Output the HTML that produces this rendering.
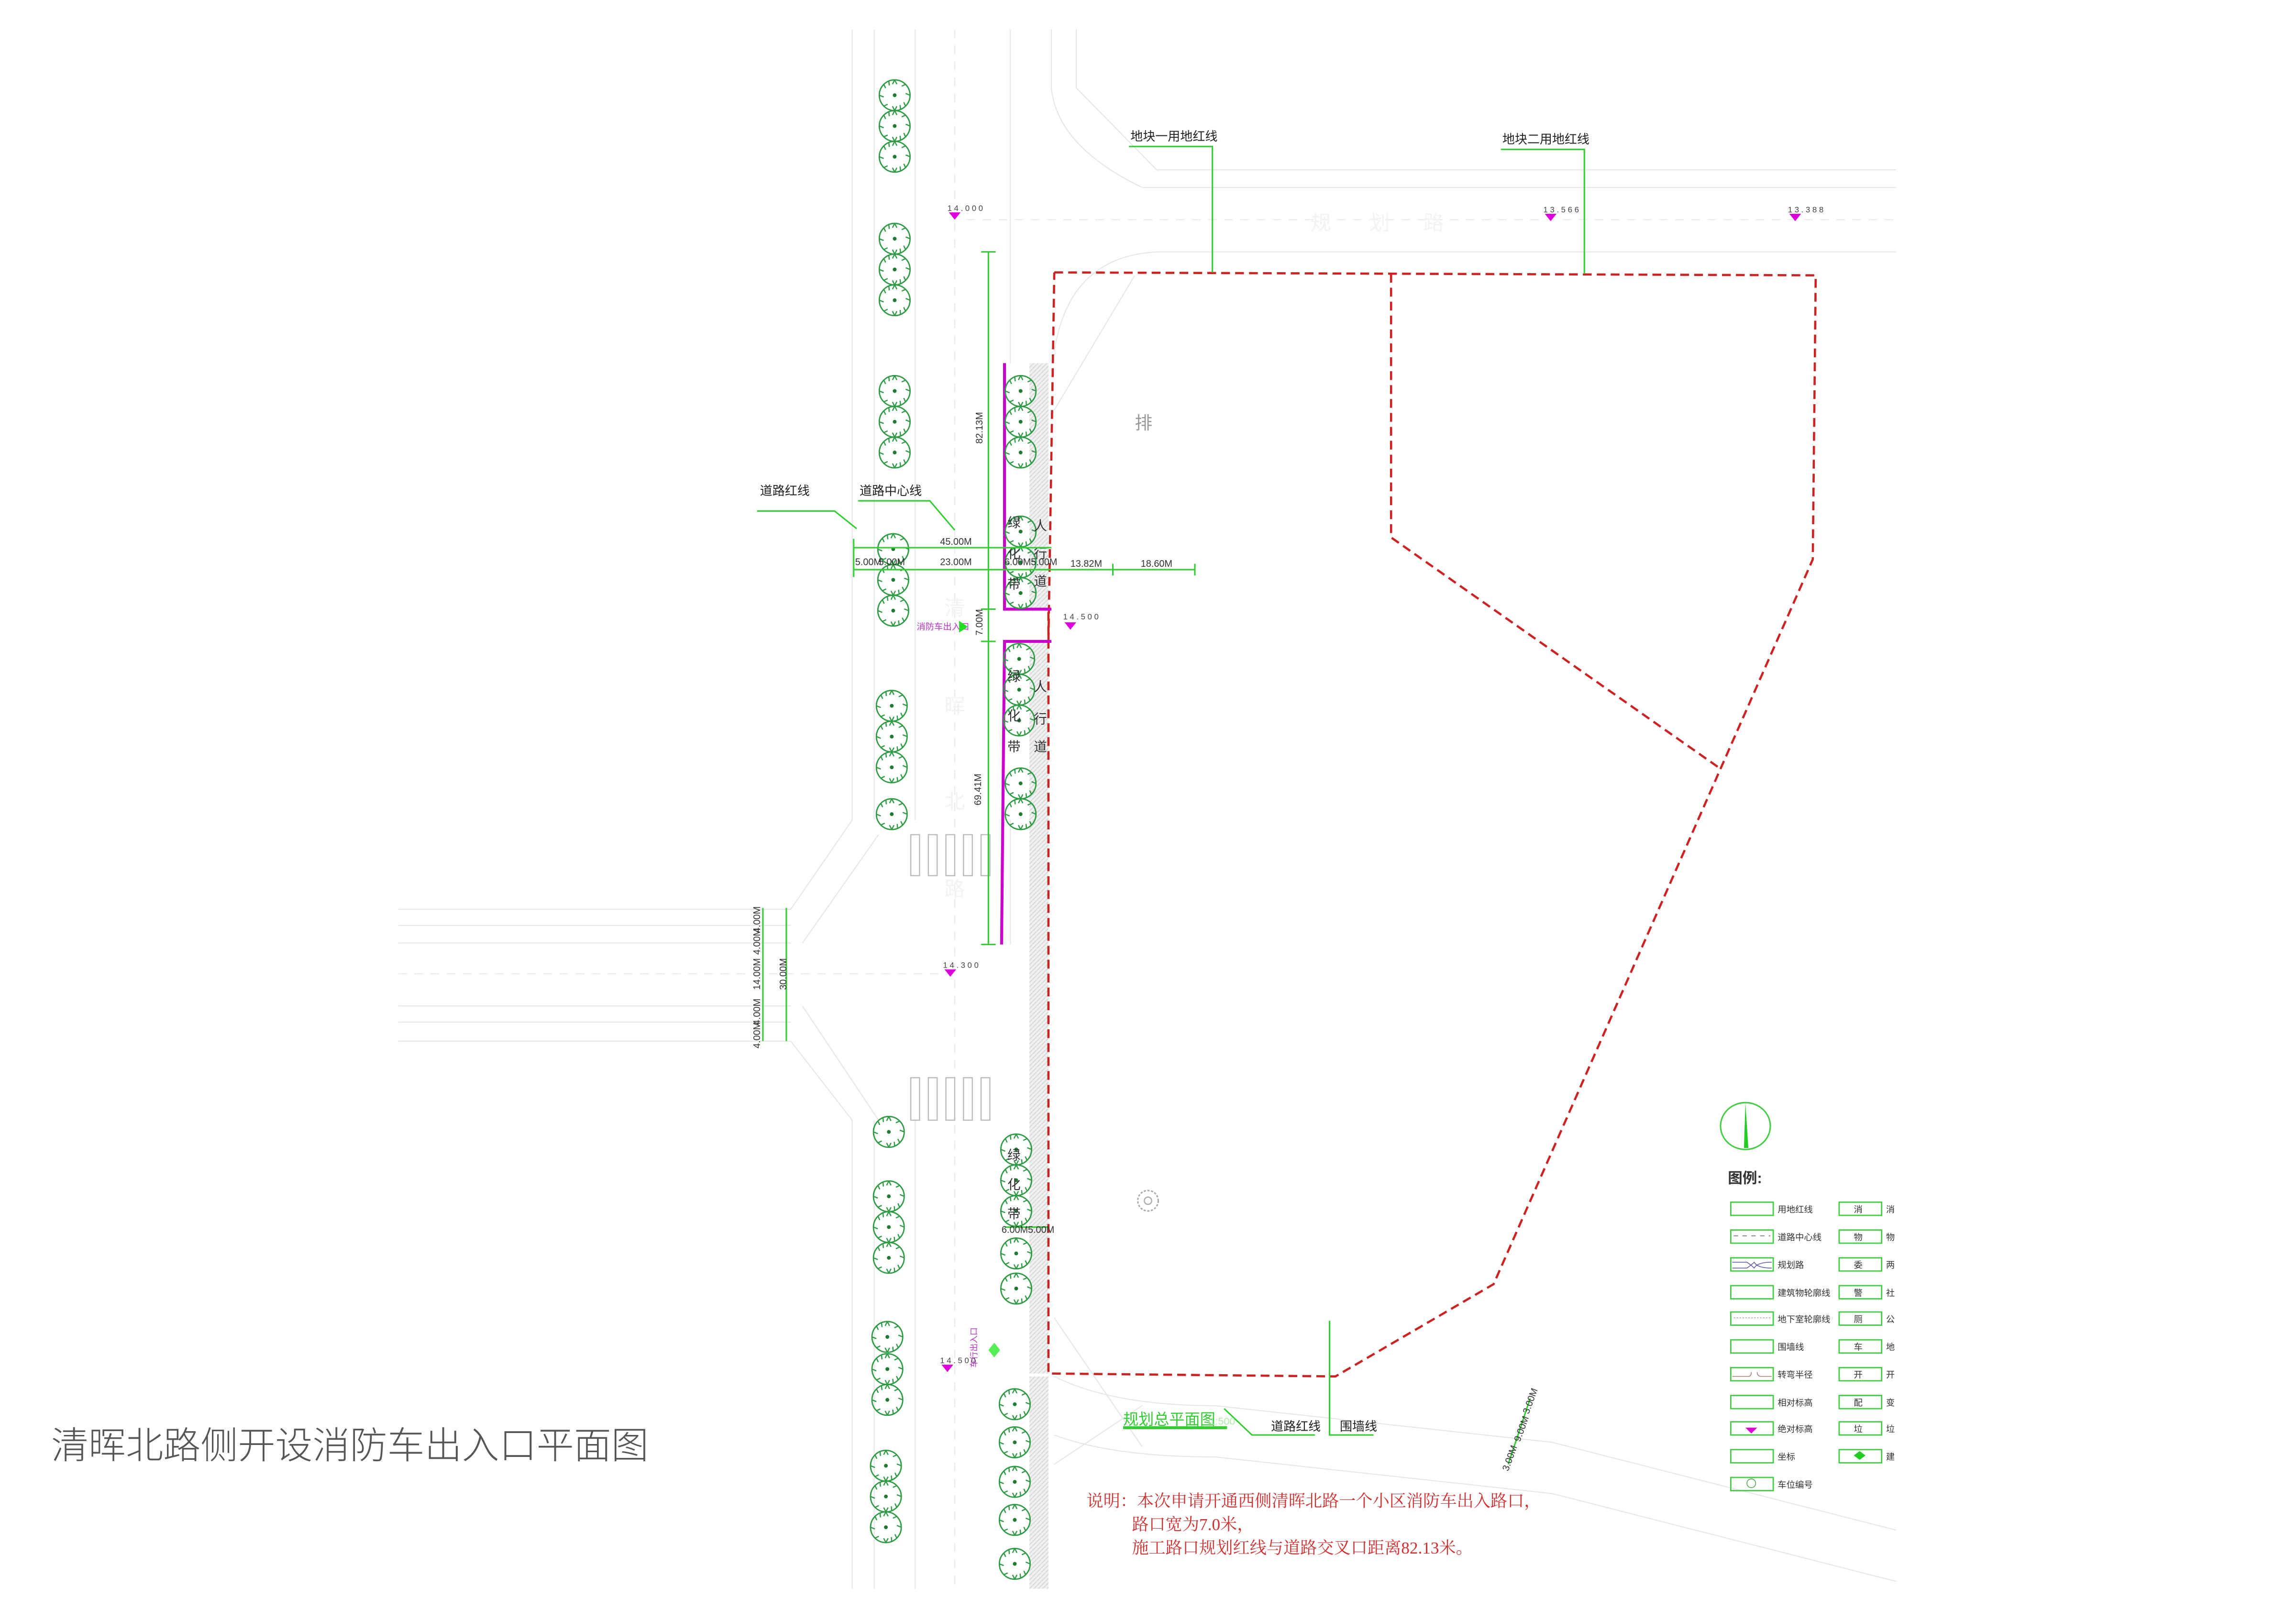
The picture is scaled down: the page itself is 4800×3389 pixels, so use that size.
<!DOCTYPE html>
<html><head><meta charset="utf-8"><style>
html,body{margin:0;padding:0;background:#fff;}
svg{display:block;}
text{font-family:"Liberation Sans","Noto Sans CJK SC",sans-serif;}
.serif{font-family:"Liberation Serif","Noto Serif CJK SC",serif;}
</style></head><body>
<svg width="4800" height="3389" viewBox="0 0 1568 1107" xmlns="http://www.w3.org/2000/svg">
<defs>
<symbol id="tr" viewBox="-12 -12 24 24" overflow="visible">
<circle r="10.5" fill="none" stroke="#2e9a44" stroke-width="0.9"/>
<path d="M0,-10.5 l-1.5,3 M0,-10.5 l1.5,3 M7.4,-7.4 l-2.6,1.2 M10.5,0 l-3,-1.2 M7.4,7.4 l-1.2,-2.6 M0,10.5 l-1.5,-3 M0,10.5 l1.5,-3 M-7.4,7.4 l2.6,-1.2 M-10.5,0 l3,1.2 M-7.4,-7.4 l1.2,2.6 M-4,-9.7 l0.3,3 M4,9.7 l-0.3,-3" stroke="#2e9a44" stroke-width="0.8" fill="none"/>
<circle r="1.3" fill="#1f7a32"/>
</symbol>
<pattern id="hatch" width="3" height="3" patternUnits="userSpaceOnUse"><rect width="3" height="3" fill="#f0f0f0"/><path d="M0,3 L3,0" stroke="#d4d4d4" stroke-width="0.6"/></pattern>
</defs>

<g stroke="#e6e6e6" stroke-width="0.7" fill="none">
<line x1="582" y1="20" x2="582" y2="560"/>
<line x1="597" y1="20" x2="597" y2="560"/>
<line x1="625" y1="20" x2="625" y2="560"/>
<line x1="690" y1="20" x2="690" y2="248"/>
<line x1="582" y1="765" x2="582" y2="1085"/>
<line x1="597" y1="765" x2="597" y2="1085"/>
<line x1="625" y1="765" x2="625" y2="1085"/>
<path d="M718,20 L718,60 Q722,100 780,128 L1295,128"/>
<path d="M735,20 L735,60 L790,116 L1295,116"/>
<path d="M720,240 Q730,175 790,172 L1295,172"/>
<path d="M720,280 L775,188"/>
<line x1="272" y1="621" x2="540" y2="621"/>
<line x1="272" y1="632" x2="540" y2="632"/>
<line x1="272" y1="644" x2="540" y2="644"/>
<line x1="272" y1="687" x2="540" y2="687"/>
<line x1="272" y1="698" x2="540" y2="698"/>
<line x1="272" y1="711" x2="540" y2="711"/>
<path d="M540,621 L582,560"/>
<path d="M548,644 L600,570"/>
<path d="M540,711 L582,765"/>
<path d="M548,687 L600,765"/>
<path d="M690,560 L690,645"/>
<path d="M720,940 Q760,960 830,960 L1060,985 L1295,1045"/>
<path d="M720,980 Q760,995 830,995 L1060,1020 L1295,1080"/>
<path d="M720,900 L780,988"/>
<path d="M720,1000 L780,960"/>
</g>
<g stroke="#ebebeb" stroke-width="0.7" stroke-dasharray="6,5" fill="none">
<line x1="652" y1="20" x2="652" y2="1085"/>
<line x1="660" y1="150" x2="1295" y2="150"/>
<line x1="272" y1="665" x2="650" y2="665"/>
</g>
<g fill="#f3f3f3" font-size="14">
<text x="895" y="157">规</text><text x="935" y="157">划</text><text x="972" y="157">路</text>
<text x="645" y="420">清</text><text x="645" y="487">晖</text><text x="645" y="552">北</text><text x="645" y="612">路</text>
</g>

<g fill="none" stroke="#bbb" stroke-width="0.8">
<rect x="622" y="570" width="6" height="28"/><rect x="634" y="570" width="6" height="28"/><rect x="646" y="570" width="6" height="28"/><rect x="658" y="570" width="6" height="28"/><rect x="670" y="570" width="6" height="28"/>
<rect x="622" y="736" width="6" height="29"/><rect x="634" y="736" width="6" height="29"/><rect x="646" y="736" width="6" height="29"/><rect x="658" y="736" width="6" height="29"/><rect x="670" y="736" width="6" height="29"/>
</g>

<rect x="703" y="248" width="13" height="168" fill="url(#hatch)"/>
<rect x="703" y="438" width="13" height="500" fill="url(#hatch)"/>
<rect x="703" y="940" width="13" height="145" fill="url(#hatch)"/>

<g stroke="#cc2222" stroke-width="1.5" stroke-dasharray="6,3.5" fill="none">
<path d="M720,186 L1240,188 L1238,382 L1175,525 L1020,877 L912,940 L716,938 L716,416"/>
<path d="M716,438 L720,186"/>
<path d="M950,187 L950,367 L1175,525"/>
</g>

<g stroke="#cc00cc" stroke-width="2" fill="none">
<path d="M686,248 L686,416 L718,416"/>
<path d="M718,438 L686,438 L684,645"/>
</g>

<g>
<use href="#tr" x="599" y="53" width="24" height="24"/><use href="#tr" x="599" y="74" width="24" height="24"/><use href="#tr" x="599" y="95" width="24" height="24"/>
<use href="#tr" x="599" y="151" width="24" height="24"/><use href="#tr" x="599" y="172" width="24" height="24"/><use href="#tr" x="599" y="193" width="24" height="24"/>
<use href="#tr" x="599" y="255" width="24" height="24"/><use href="#tr" x="599" y="276" width="24" height="24"/><use href="#tr" x="599" y="297" width="24" height="24"/>
<use href="#tr" x="598" y="363" width="24" height="24"/><use href="#tr" x="598" y="384" width="24" height="24"/><use href="#tr" x="598" y="405" width="24" height="24"/>
<use href="#tr" x="597" y="470" width="24" height="24"/><use href="#tr" x="597" y="491" width="24" height="24"/><use href="#tr" x="597" y="512" width="24" height="24"/>
<use href="#tr" x="597" y="544" width="24" height="24"/>
<use href="#tr" x="595" y="761" width="24" height="24"/>
<use href="#tr" x="595" y="805" width="24" height="24"/><use href="#tr" x="595" y="826" width="24" height="24"/><use href="#tr" x="595" y="847" width="24" height="24"/>
<use href="#tr" x="594" y="901" width="24" height="24"/><use href="#tr" x="594" y="923" width="24" height="24"/><use href="#tr" x="594" y="944" width="24" height="24"/>
<use href="#tr" x="593" y="989" width="24" height="24"/><use href="#tr" x="593" y="1010" width="24" height="24"/><use href="#tr" x="593" y="1031" width="24" height="24"/>
<use href="#tr" x="685" y="255" width="24" height="24"/><use href="#tr" x="685" y="276" width="24" height="24"/><use href="#tr" x="685" y="297" width="24" height="24"/>
<use href="#tr" x="685" y="351" width="24" height="24"/><use href="#tr" x="685" y="372" width="24" height="24"/><use href="#tr" x="685" y="393" width="24" height="24"/>
<use href="#tr" x="684" y="438" width="24" height="24"/><use href="#tr" x="684" y="459" width="24" height="24"/><use href="#tr" x="684" y="480" width="24" height="24"/>
<use href="#tr" x="685" y="523" width="24" height="24"/><use href="#tr" x="685" y="544" width="24" height="24"/>
<use href="#tr" x="682" y="773" width="24" height="24"/><use href="#tr" x="682" y="794" width="24" height="24"/><use href="#tr" x="682" y="815" width="24" height="24"/>
<use href="#tr" x="682" y="844" width="24" height="24"/><use href="#tr" x="682" y="868" width="24" height="24"/>
<use href="#tr" x="681" y="947" width="24" height="24"/><use href="#tr" x="681" y="973" width="24" height="24"/><use href="#tr" x="681" y="1000" width="24" height="24"/>
<use href="#tr" x="681" y="1026" width="24" height="24"/><use href="#tr" x="681" y="1056" width="24" height="24"/>
</g>

<g font-size="9" fill="#333">
<text x="688" y="360">绿</text><text x="688" y="381">化</text><text x="688" y="402">带</text>
<text x="706" y="362">人</text><text x="706" y="381">行</text><text x="706" y="400">道</text>
<text x="688" y="465">绿</text><text x="688" y="492">化</text><text x="688" y="513">带</text>
<text x="706" y="472">人</text><text x="706" y="494">行</text><text x="706" y="513">道</text>
<text x="688" y="792">绿</text><text x="688" y="812">化</text><text x="688" y="832">带</text>
</g>

<g stroke="#33cc33" stroke-width="1" fill="none">
<line x1="675" y1="172" x2="675" y2="645"/>
<line x1="670" y1="172" x2="680" y2="172"/><line x1="670" y1="416" x2="680" y2="416"/><line x1="670" y1="438" x2="680" y2="438"/><line x1="670" y1="645" x2="680" y2="645"/>
<line x1="583" y1="374" x2="718" y2="374"/>
<line x1="583" y1="389" x2="816" y2="389"/>
<line x1="583" y1="368" x2="583" y2="394"/><line x1="760" y1="385" x2="760" y2="393"/><line x1="816" y1="385" x2="816" y2="393"/>
<path d="M517,349 L570,349 L585,361"/>
<path d="M586,342 L635,342 L652,362"/>
<path d="M771,100 L828,100 L828,186"/>
<path d="M1025,102 L1082,102 L1082,187"/>
<line x1="537" y1="620" x2="537" y2="711"/>
<line x1="521" y1="620" x2="521" y2="711"/>
<path d="M836,962 L855,980 L898,980"/>
<path d="M908,902 L908,980 L938,980"/>
<line x1="767" y1="975" x2="838" y2="975" stroke-width="2"/>
<line x1="686" y1="838" x2="716" y2="838"/>
<line x1="1030" y1="1000" x2="1045" y2="955"/>
</g>
<g font-size="6.5" fill="#333">
<text x="642" y="372">45.00M</text>
<text x="584" y="386">5.00M</text><text x="600" y="386">5.00M</text>
<text x="642" y="386">23.00M</text>
<text x="686" y="386">6.00M</text><text x="704" y="386">5.00M</text>
<text x="731" y="387">13.82M</text><text x="779" y="387">18.60M</text>
<text x="684" y="842">6.00M</text><text x="702" y="842">5.00M</text>
<text transform="translate(671,303) rotate(-90)">82.13M</text>
<text transform="translate(671,434) rotate(-90)">7.00M</text>
<text transform="translate(670,550) rotate(-90)">69.41M</text>
<text transform="translate(519,637) rotate(-90)">4.00M</text>
<text transform="translate(519,652) rotate(-90)">4.00M</text>
<text transform="translate(519,676) rotate(-90)">14.00M</text>
<text transform="translate(537,676) rotate(-90)">30.00M</text>
<text transform="translate(519,700) rotate(-90)">4.00M</text>
<text transform="translate(519,716) rotate(-90)">4.00M</text>
<text transform="translate(1030,1005) rotate(-70)">3.00M</text>
<text transform="translate(1038,985) rotate(-70)">9.00M</text>
<text transform="translate(1044,966) rotate(-70)">3.00M</text>
</g>

<g font-size="8.5" fill="#222">
<text x="519" y="338">道路红线</text>
<text x="587" y="338">道路中心线</text>
<text x="772" y="96">地块一用地红线</text>
<text x="1026" y="98">地块二用地红线</text>
<text x="868" y="977">道路红线</text>
<text x="915" y="977">围墙线</text>
</g>
<text x="767" y="973" font-size="10.5" fill="#33cc33">规划总平面图</text>
<text x="826" y="973" font-size="7" fill="#aaeeaa">1:500</text>

<text x="775" y="293" font-size="12" fill="#999">排</text>
<circle cx="784" cy="820" r="7" fill="none" stroke="#aaa" stroke-width="1" stroke-dasharray="1.5,1"/>
<circle cx="784" cy="820" r="2.5" fill="none" stroke="#aaa" stroke-width="0.8"/>

<g fill="#dd00dd">
<path d="M648,145 L656,145 L652,150 Z"/>
<path d="M1055,146 L1063,146 L1059,151 Z"/>
<path d="M1222,146 L1230,146 L1226,151 Z"/>
<path d="M727,425 L735,425 L731,430 Z"/>
<path d="M645,662 L653,662 L649,667 Z"/>
<path d="M643,932 L651,932 L647,937 Z"/>
</g>
<g font-size="5.5" fill="#444" letter-spacing="1.5">
<text x="647" y="144">14.000</text>
<text x="1054" y="145">13.566</text>
<text x="1221" y="145">13.388</text>
<text x="726" y="423">14.500</text>
<text x="644" y="661">14.300</text>
<text x="642" y="931">14.500</text>
</g>
<text x="626" y="430" font-size="6" fill="#bb33cc">消防车出入口</text>
<path d="M655,424 L661,428 L655,432 Z" fill="#22dd22"/>
<text transform="translate(667,934) rotate(-90)" font-size="5.5" fill="#bb33cc">车行出入口</text>
<path d="M675,922 L679,927 L683,922 L679,917 Z" fill="#55ee55"/>

<g fill="#d03030" font-size="11.5">
<text class="serif" x="742" y="1029">说明：本次申请开通西侧清晖北路一个小区消防车出入路口，</text>
<text class="serif" x="773" y="1045">路口宽为7.0米，</text>
<text class="serif" x="773" y="1061">施工路口规划红线与道路交叉口距离82.13米。</text>
</g>

<ellipse cx="1192" cy="769" rx="17" ry="16" fill="none" stroke="#44cc44" stroke-width="1"/>
<path d="M1191,784 L1192,753 L1194,784 Z" fill="#22cc22"/>
<text x="1180" y="808" font-size="10" font-weight="bold" fill="#333">图例:</text>
<g fill="none" stroke="#44cc44" stroke-width="0.9">
<rect x="1182" y="821" width="29" height="9"/><rect x="1182" y="840" width="29" height="9"/><rect x="1182" y="859" width="29" height="9"/>
<rect x="1182" y="878" width="29" height="9"/><rect x="1182" y="896" width="29" height="9"/><rect x="1182" y="915" width="29" height="9"/>
<rect x="1182" y="934" width="29" height="9"/><rect x="1182" y="953" width="29" height="9"/><rect x="1182" y="971" width="29" height="9"/>
<rect x="1182" y="990" width="29" height="9"/><rect x="1182" y="1009" width="29" height="9"/>
<rect x="1256" y="821" width="29" height="9"/><rect x="1256" y="840" width="29" height="9"/><rect x="1256" y="859" width="29" height="9"/>
<rect x="1256" y="878" width="29" height="9"/><rect x="1256" y="896" width="29" height="9"/><rect x="1256" y="915" width="29" height="9"/>
<rect x="1256" y="934" width="29" height="9"/><rect x="1256" y="953" width="29" height="9"/><rect x="1256" y="971" width="29" height="9"/>
<rect x="1256" y="990" width="29" height="9"/>
</g>
<line x1="1184" y1="844" x2="1209" y2="844" stroke="#666" stroke-width="0.5" stroke-dasharray="3,3"/>
<path d="M1183,862 L1193,862 Q1196,864 1198,866 Q1200,862 1210,862 M1183,866 L1193,866 Q1196,864 1198,862 Q1200,866 1210,866" stroke="#5555aa" stroke-width="0.5" fill="none"/>
<line x1="1184" y1="900" x2="1209" y2="900" stroke="#888" stroke-width="0.4" stroke-dasharray="1,1"/>
<path d="M1183,940 L1194,940 Q1196,940 1196,937 M1200,937 Q1200,940 1203,940 L1210,940" stroke="#aa7777" stroke-width="0.5" fill="none"/>
<path d="M1192,975 L1200,975 L1196,979 Z" fill="#dd00dd"/>
<circle cx="1196" cy="1013" r="3" fill="none" stroke="#44aa44" stroke-width="0.5"/>
<path d="M1266,994 L1270,991 L1274,994 L1270,997 Z" fill="#22cc22"/>
<g font-size="6" fill="#333">
<text x="1214" y="828">用地红线</text><text x="1214" y="847">道路中心线</text><text x="1214" y="866">规划路</text>
<text x="1214" y="885">建筑物轮廓线</text><text x="1214" y="903">地下室轮廓线</text><text x="1214" y="922">围墙线</text>
<text x="1214" y="941">转弯半径</text><text x="1214" y="960">相对标高</text><text x="1214" y="978">绝对标高</text>
<text x="1214" y="997">坐标</text><text x="1214" y="1016">车位编号</text>
<text x="1288" y="828">消</text><text x="1288" y="847">物</text><text x="1288" y="866">两</text>
<text x="1288" y="885">社</text><text x="1288" y="903">公</text><text x="1288" y="922">地</text>
<text x="1288" y="941">开</text><text x="1288" y="960">变</text><text x="1288" y="978">垃</text><text x="1288" y="997">建</text>
<text x="1266" y="828">消</text><text x="1266" y="847">物</text><text x="1266" y="866">委</text>
<text x="1266" y="885">警</text><text x="1266" y="903">厕</text><text x="1266" y="922">车</text>
<text x="1266" y="941">开</text><text x="1266" y="960">配</text><text x="1266" y="978">垃</text>
</g>
<rect x="1297" y="810" width="10" height="210" fill="#fff"/>

<text x="35" y="996" font-size="25.5" fill="#555" style="font-weight:300">清晖北路侧开设消防车出入口平面图</text>
</svg>
</body></html>
